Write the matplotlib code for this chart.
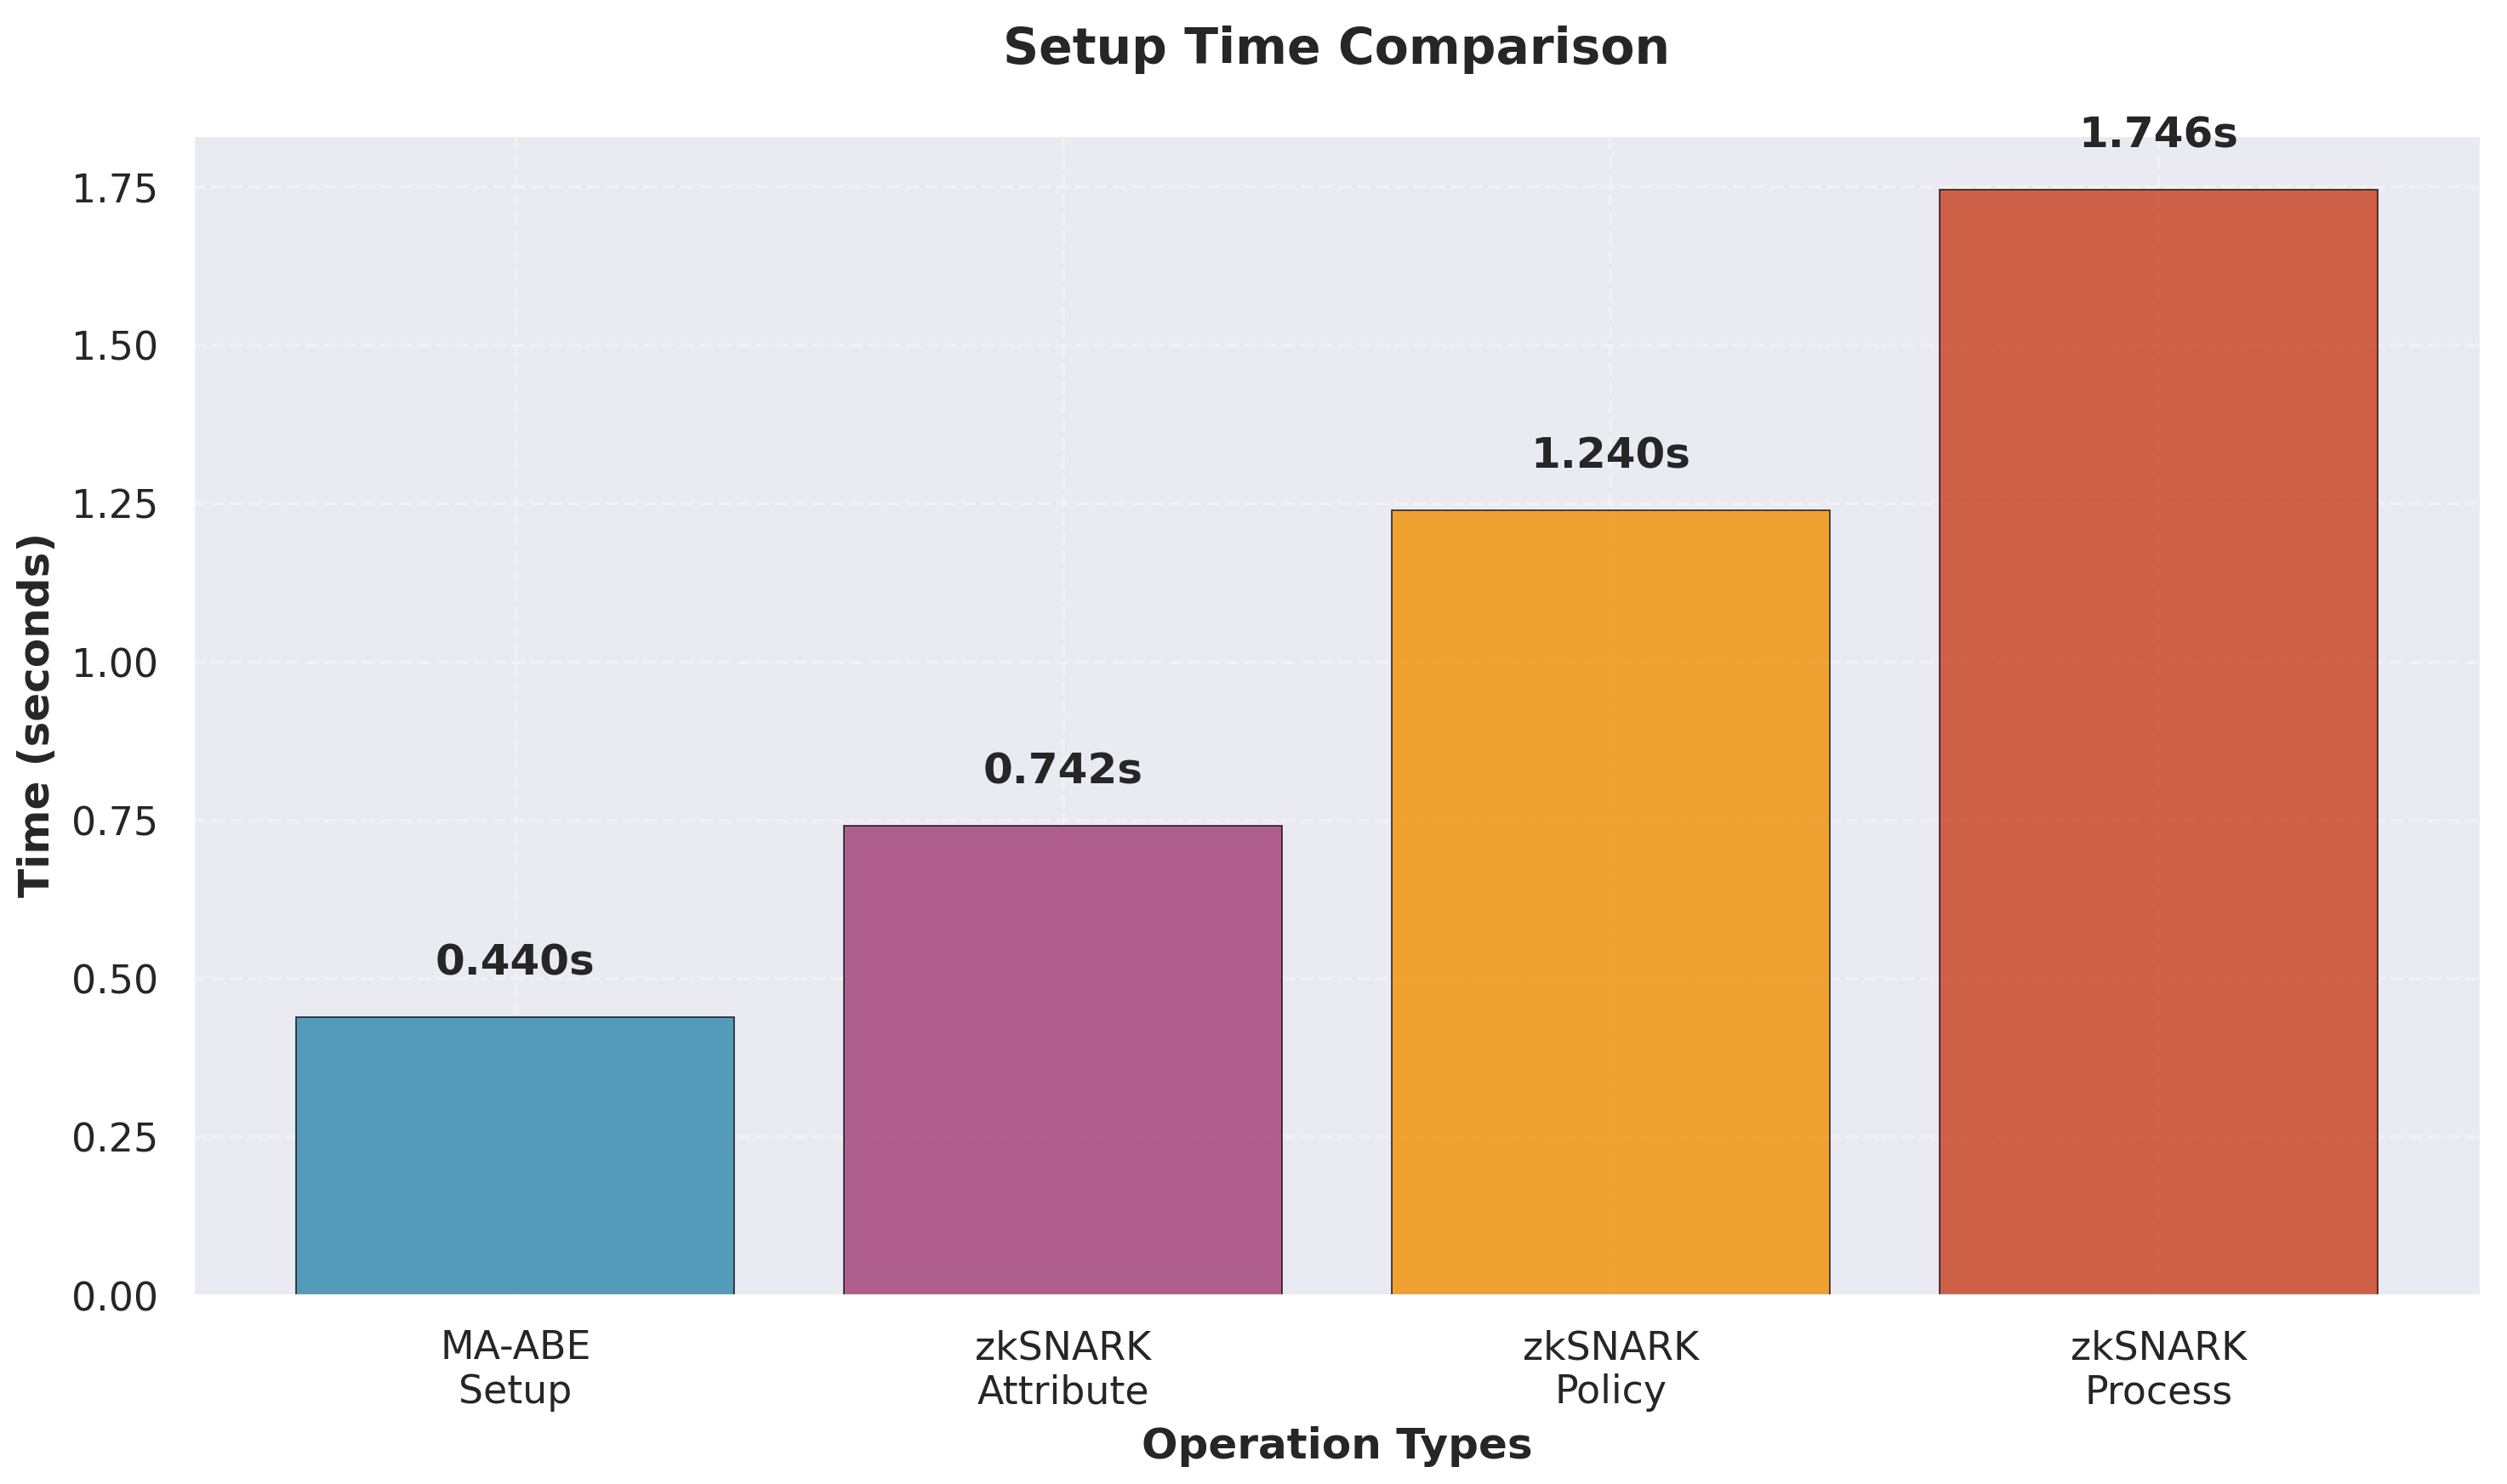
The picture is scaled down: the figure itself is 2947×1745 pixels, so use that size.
import matplotlib
matplotlib.use("Agg")
import matplotlib.pyplot as plt
import seaborn as sns

operations = ["MA-ABE\nSetup", "zkSNARK\nAttribute", "zkSNARK\nPolicy", "zkSNARK\nProcess"]
times = [0.440, 0.742, 1.240, 1.746]
colors = ["#2E86AB", "#A23B72", "#F18F01", "#C73E1D"]

sns.set_theme(style="darkgrid")
plt.rcParams["font.family"] = ["DejaVu Sans"]

fig, ax = plt.subplots(figsize=(2947 / 300, 1745 / 300), dpi=300)

bars = ax.bar(operations, times, color=colors, alpha=0.8,
              edgecolor="black", linewidth=0.4)

top = max(times)
for bar, t in zip(bars, times):
    ax.text(bar.get_x() + bar.get_width() / 2, t + top * 0.03, f"{t:.3f}s",
            ha="center", va="bottom", fontsize=12, fontweight="bold")

ax.set_ylim(0, top * 1.05)
ax.set_title("Setup Time Comparison", fontsize=14, fontweight="bold", pad=20)
ax.set_xlabel("Operation Types", fontsize=12, fontweight="bold")
ax.set_ylabel("Time (seconds)", fontsize=12, fontweight="bold")
ax.tick_params(labelsize=11)
ax.grid(True, linestyle="--", alpha=0.3)

fig.subplots_adjust(left=0.0767, right=0.9898, top=0.9095, bottom=0.1268)
fig.savefig("out.png", dpi=300)
